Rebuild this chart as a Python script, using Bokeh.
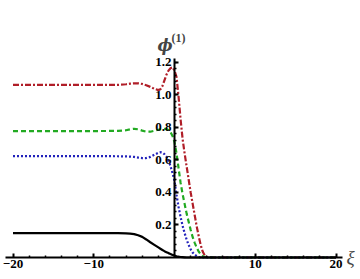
from bokeh.plotting import figure
from bokeh.models import Range1d, FixedTicker, Label
from bokeh.embed import file_html
from bokeh.resources import INLINE

# ---- data ----
xi = [-20, -10, -7, -6, -5.5, -5, -4.5, -4, -3.5, -3, -2.5, -2, -1.75, -1.5, -1.25,
      -1, -0.75, -0.5, -0.25, 0, 0.25, 0.5, 0.75, 1, 1.25, 1.5, 1.75, 2, 2.25, 2.5,
      2.75, 3, 3.25, 3.5, 3.75, 4, 5, 10, 20]

phi_red = [1.062, 1.062, 1.062, 1.066, 1.070, 1.072, 1.072, 1.068, 1.060, 1.050, 1.038,
           1.030, 1.035, 1.055, 1.090, 1.125, 1.150, 1.165, 1.170, 1.150, 1.110, 0.990,
           0.850, 0.730, 0.640, 0.560, 0.480, 0.400, 0.330, 0.260, 0.190, 0.130, 0.075,
           0.035, 0.012, 0.003, 0.0, 0.0, 0.0]

phi_green = [0.778, 0.778, 0.779, 0.783, 0.789, 0.792, 0.789, 0.781, 0.774, 0.774, 0.780,
             0.786, 0.789, 0.790, 0.791, 0.790, 0.785, 0.772, 0.748, 0.710, 0.640, 0.550,
             0.460, 0.390, 0.330, 0.270, 0.220, 0.170, 0.125, 0.090, 0.060, 0.036, 0.019,
             0.008, 0.003, 0.001, 0.0, 0.0, 0.0]

phi_blue = [0.624, 0.624, 0.623, 0.622, 0.621, 0.619, 0.615, 0.612, 0.612, 0.619, 0.632,
            0.645, 0.648, 0.646, 0.636, 0.620, 0.595, 0.563, 0.520, 0.470, 0.385, 0.310,
            0.250, 0.195, 0.150, 0.110, 0.077, 0.050, 0.030, 0.017, 0.008, 0.003, 0.001,
            0.0, 0.0, 0.0, 0.0, 0.0, 0.0]

phi_black = [0.150, 0.150, 0.150, 0.149, 0.147, 0.144, 0.137, 0.127, 0.111, 0.094, 0.078,
             0.062, 0.054, 0.046, 0.039, 0.033, 0.027, 0.022, 0.016, 0.012, 0.008, 0.005,
             0.003, 0.002, 0.001, 0.0, 0.0, 0.0, 0.0, 0.0, 0.0, 0.0, 0.0,
             0.0, 0.0, 0.0, 0.0, 0.0, 0.0]

x_ticks = [-20, -10, 10, 20]
x_tick_labels = ["\u221220", "\u221210", "10", "20"]
x_minor = [-18, -16, -14, -12, -8, -6, -4, -2, 2, 4, 6, 8, 12, 14, 16, 18]
y_ticks = [0.2, 0.4, 0.6, 0.8, 1.0, 1.2]
y_tick_labels = ["0.2", "0.4", "0.6", "0.8", "1.0", "1.2"]
y_minor = [round(0.04 * i, 2) for i in range(1, 31)]

p = figure(width=360, height=279, output_backend="svg", toolbar_location=None,
           x_range=Range1d(-21.55, 23.03), y_range=Range1d(-0.1354, 1.5815),
           min_border_left=0, min_border_right=0, min_border_top=0, min_border_bottom=0)
p.outline_line_color = None
p.xgrid.visible = False
p.ygrid.visible = False
p.background_fill_color = "white"

p.line(xi, phi_red, line_color="#B01E28", line_width=2.2, line_dash="6 2 2 2")
p.line(xi, phi_green, line_color="#22AA22", line_width=2.2, line_dash="5 3")
p.line(xi, phi_blue, line_color="#2222BB", line_width=2.2, line_dash="2 2")
p.line(xi, phi_black, line_color="black", line_width=2.2)

for ax in (p.xaxis[0], p.yaxis[0]):
    ax.fixed_location = 0
    ax.axis_line_width = 2
    ax.axis_line_color = "black"
    ax.major_tick_in = 4
    ax.major_tick_out = 0
    ax.minor_tick_in = 2
    ax.minor_tick_out = 0
    ax.major_tick_line_width = 2
    ax.minor_tick_line_width = 1.5
    ax.major_label_text_font = "Liberation Serif"
    ax.major_label_text_font_style = "bold"
    ax.major_label_text_font_size = "13px"
    ax.major_label_text_color = "black"

p.xaxis[0].bounds = (-20.9, 20.8)
p.xaxis[0].ticker = FixedTicker(ticks=x_ticks, minor_ticks=x_minor)
p.xaxis[0].major_label_overrides = dict(zip(x_ticks, x_tick_labels))
p.xaxis[0].major_label_standoff = 3
p.yaxis[0].bounds = (0, 1.225)
p.yaxis[0].ticker = FixedTicker(ticks=y_ticks, minor_ticks=y_minor)
p.yaxis[0].major_label_overrides = dict(zip(y_ticks, y_tick_labels))
p.yaxis[0].major_label_standoff = 3

p.add_layout(Label(x=0, y=1.225, x_offset=-17, y_offset=13, text="\u03d5",
                   text_font="DejaVu Serif", text_font_style="bold italic",
                   text_font_size="16px", text_baseline="alphabetic", text_align="left"))
p.add_layout(Label(x=0, y=1.225, x_offset=-3, y_offset=20, text="(1)",
                   text_font="Liberation Serif", text_font_style="bold",
                   text_font_size="12px", text_baseline="alphabetic", text_align="left"))
p.add_layout(Label(x=20.8, y=0, x_offset=4, y_offset=0, text="\u03be",
                   text_font="Liberation Serif", text_font_style="italic",
                   text_font_size="19px", text_baseline="alphabetic", text_align="left"))

open("out.html", "w").write(file_html(p, INLINE))
